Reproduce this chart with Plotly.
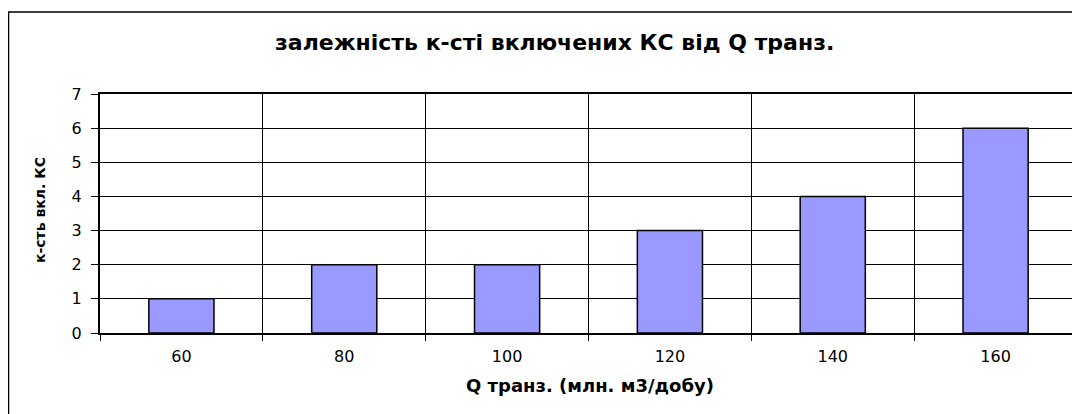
import plotly.graph_objects as go

categories = ["60", "80", "100", "120", "140", "160"]
values = [1, 2, 2, 3, 4, 6]
y_ticks = [0, 1, 2, 3, 4, 5, 6, 7]

title_text = "залежність к-сті включених КС від Q транз."
x_title = "Q транз. (млн. м3/добу)"
y_title = "к-сть вкл. КС"

FONT = "DejaVu Sans, Liberation Sans, sans-serif"

# the page body adds an 8px offset; work in window pixels and shift
OFF = 8
W, H = 1080 - OFF, 414 - OFF
L, R, T, B = 100 - OFF, 3, 94 - OFF, 414 - 333
pw, ph = W - L - R, H - T - B

def px_x(px):
    return (px - OFF - L) / pw

def px_y(py):
    return (H - B - (py - OFF)) / ph

fig = go.Figure()
fig.add_trace(go.Bar(
    x=categories, y=values, width=0.4,
    marker=dict(color="#9999FF", line=dict(color="#000000", width=1.5)),
    hoverinfo="skip",
))

fig.update_layout(
    width=W, height=H,
    margin=dict(l=L, r=R, t=T, b=B, autoexpand=False),
    paper_bgcolor="white", plot_bgcolor="white",
    showlegend=False,
    font=dict(family=FONT, color="#000000", size=16),
)
fig.update_xaxes(
    type="category", tickson="boundaries", automargin=False,
    showgrid=True, gridcolor="#000000", gridwidth=1,
    showline=True, linecolor="#000000", linewidth=2, mirror=True,
    ticks="outside", ticklen=6, tickcolor="#000000",
    tickfont=dict(size=16), ticklabelstandoff=8,
)
fig.update_yaxes(
    range=[0, 7], tickvals=y_ticks, automargin=False,
    showgrid=True, gridcolor="#000000", gridwidth=1,
    showline=True, linecolor="#000000", linewidth=2, mirror=True,
    ticks="outside", ticklen=7, tickcolor="#000000",
    tickfont=dict(size=16), zeroline=False, ticklabelstandoff=6,
)
fig.add_annotation(text="<b>" + title_text + "</b>", xref="paper", yref="paper",
                   x=px_x(554), y=px_y(42), showarrow=False,
                   xanchor="center", yanchor="middle", font=dict(size=22))
fig.add_annotation(text="<b>" + x_title + "</b>", xref="paper", yref="paper",
                   x=px_x(590), y=px_y(385), showarrow=False,
                   xanchor="center", yanchor="middle", font=dict(size=18))
fig.add_annotation(text="<b>" + y_title + "</b>", xref="paper", yref="paper",
                   x=px_x(40), y=px_y(210), showarrow=False, textangle=-90,
                   xanchor="center", yanchor="middle", font=dict(size=14))
# outer chart frame
fig.add_shape(type="rect", xref="paper", yref="paper",
              x0=px_x(8.5), x1=px_x(1090), y0=px_y(430), y1=px_y(12),
              line=dict(color="#000000", width=1.5), fillcolor="rgba(0,0,0,0)",
              layer="below")

fig.write_html("out.html")
